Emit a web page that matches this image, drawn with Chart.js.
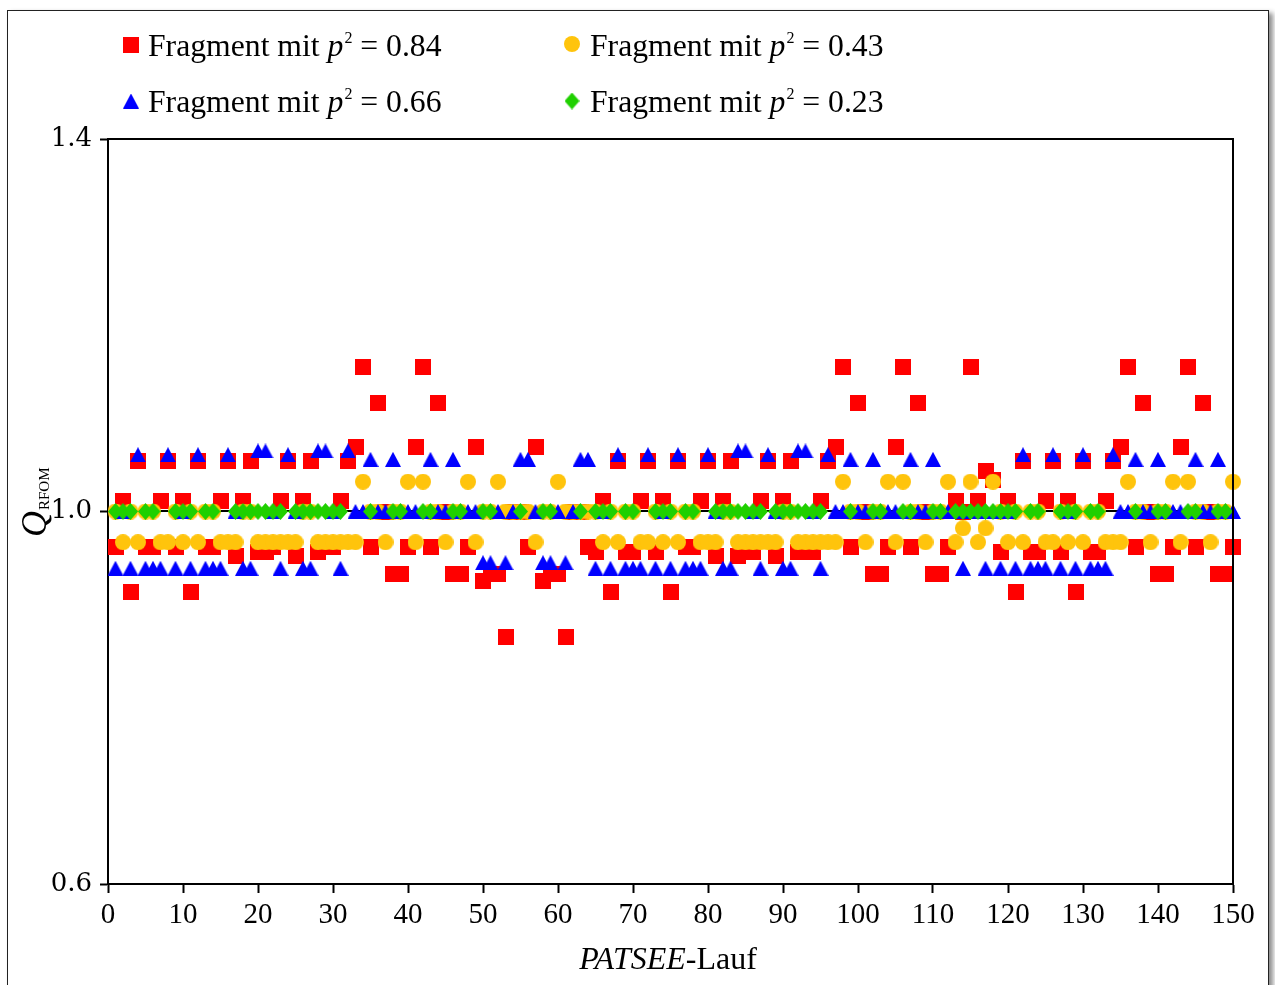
<!DOCTYPE html>
<html>
<head>
<meta charset="utf-8">
<script src="https://cdn.jsdelivr.net/npm/chart.js@4.4.1/dist/chart.umd.min.js"></script>
<style>
  html, body { margin: 0; padding: 0; background: #fff; overflow: hidden; }
  #frame { position: absolute; left: 7px; top: 10px; width: 1260px; height: 1000px;
           border: 1px solid #222; box-shadow: 4px 3px 5px rgba(0,0,0,0.45); }
  #wrap { position: absolute; left: 0; top: 0; width: 1275px; height: 985px; }
</style>
</head>
<body>
<div id="frame"></div>
<div id="wrap"><canvas id="chart" width="1275" height="985"></canvas></div>
<script>
// PATSEE runs (x values)
const runs = [
  1,2,3,4,5,6,7,8,9,10,11,12,13,14,15,16,17,18,19,20,21,22,23,24,25,
  26,27,28,29,30,31,32,33,34,35,36,37,38,39,40,41,42,43,44,45,46,47,48,49,50,
  51,52,53,54,55,56,57,58,59,60,61,62,63,64,65,66,67,68,69,70,71,72,73,74,75,
  76,77,78,79,80,81,82,83,84,85,86,87,88,89,90,91,92,93,94,95,96,97,98,99,100,
  101,102,103,104,105,106,107,108,109,110,111,112,113,114,115,116,117,118,119,120,121,122,123,124,125,
  126,127,128,129,130,131,132,133,134,135,136,137,138,139,140,141,142,143,144,145,146,147,148,149,150
];
const xTickValues = [0,10,20,30,40,50,60,70,80,90,100,110,120,130,140,150];
const yTickValues = [0.6, 1.0, 1.4];
const yTickLabels = ['0.6', '1.0', '1.4'];
const referenceLine = 1.0;

// legend texts, in the order red, yellow, blue, green
const seriesNames = ['Fragment mit p² = 0.84', 'Fragment mit p² = 0.43', 'Fragment mit p² = 0.66', 'Fragment mit p² = 0.23'];
const pSquared = ['0.84', '0.43', '0.66', '0.23'];

// Q_RFOM per run
const q084 = [
  0.962,1.011,0.914,1.054,0.962,0.962,1.011,1.054,0.962,1.011,0.914,1.054,0.962,0.962,1.011,1.054,0.952,1.011,1.054,0.957,0.957,0.962,1.011,1.054,0.952,
  1.011,1.054,0.957,0.962,0.962,1.011,1.054,1.069,1.155,0.962,1.116,1.000,0.933,0.933,0.962,1.069,1.155,0.962,1.116,1.000,0.933,0.933,0.962,1.069,0.925,
  0.933,0.933,0.865,1.000,1.000,0.962,1.069,0.925,0.933,0.933,0.865,1.000,1.000,0.962,0.957,1.011,0.914,1.054,0.957,0.957,1.011,1.054,0.957,1.011,0.914,
  1.054,0.962,0.962,1.011,1.054,0.952,1.011,1.054,0.952,0.957,0.957,1.011,1.054,0.952,1.011,1.054,0.957,0.957,0.957,1.011,1.054,1.069,1.155,0.962,1.116,
  1.000,0.933,0.933,0.962,1.069,1.155,0.962,1.116,1.000,0.933,0.933,0.962,1.011,1.000,1.155,1.011,1.044,1.034,0.957,1.011,0.914,1.054,0.957,0.957,1.011,
  1.054,0.957,1.011,0.914,1.054,0.957,0.957,1.011,1.054,1.069,1.155,0.962,1.116,1.000,0.933,0.933,0.962,1.069,1.155,0.962,1.116,1.000,0.933,0.933,0.962
];
const q043 = [
  1,0.967,1,0.967,1,1,0.967,0.967,1,0.967,1,0.967,1,1,0.967,0.967,0.967,1,1,0.967,0.967,0.967,0.967,0.967,0.967,
  1,1,0.967,0.967,0.967,0.967,0.967,0.967,1.032,1,1,0.967,1,1,1.032,0.967,1.032,1,1,0.967,1,1,1.032,0.967,1,
  1,1.032,1,1,1,1,0.967,1,1,1.032,1,1,1,1,1,0.967,1,0.967,1,1,0.967,0.967,1,0.967,1,
  0.967,1,1,0.967,0.967,0.967,1,1,0.967,0.967,0.967,0.967,0.967,0.967,1,1,0.967,0.967,0.967,0.967,0.967,0.967,1.032,1,1,
  0.967,1,1,1.032,0.967,1.032,1,1,0.967,1,1,1.032,0.967,0.982,1.032,0.967,0.982,1.032,1,0.967,1,0.967,1,1,0.967,
  0.967,1,0.967,1,0.967,1,1,0.967,0.967,0.967,1.032,1,1,0.967,1,1,1.032,0.967,1.032,1,1,0.967,1,1,1.032
];
const q066 = [
  0.939,1,0.939,1.061,0.939,0.939,0.939,1.061,0.939,1,0.939,1.061,0.939,0.939,0.939,1.061,1,0.939,0.939,1.065,1.065,1,0.939,1.061,1,
  0.939,0.939,1.065,1.065,1,0.939,1.065,1,1,1.056,1,1,1.056,1,1,1,1,1.056,1,1,1.056,1,1,1,0.945,
  0.945,1,0.945,1,1.056,1.056,1,0.945,0.945,1,0.945,1,1.056,1.056,0.939,1,0.939,1.061,0.939,0.939,0.939,1.061,0.939,1,0.939,
  1.061,0.939,0.939,0.939,1.061,1,0.939,0.939,1.065,1.065,1,0.939,1.061,1,0.939,0.939,1.065,1.065,1,0.939,1.061,1,1,1.056,1,
  1,1.056,1,1,1,1,1.056,1,1,1.056,1,1,1,0.939,1,1,0.939,1,0.939,1,0.939,1.061,0.939,0.939,0.939,
  1.061,0.939,1,0.939,1.061,0.939,0.939,0.939,1.061,1,1,1.056,1,1,1.056,1,1,1,1,1.056,1,1,1.056,1,1
];
const q023 = [
  1,1,1,null,1,1,null,null,1,1,1,null,1,1,null,null,1,1,1,1,1,1,1,null,1,
  1,1,1,1,1,1,null,null,null,1,null,null,1,1,null,null,1,1,null,null,1,1,null,null,1,
  1,null,null,null,1,null,null,1,1,null,null,null,1,null,1,1,1,null,1,1,null,null,1,1,1,
  null,1,1,null,null,1,1,1,1,1,1,1,null,1,1,1,1,1,1,1,null,null,null,1,null,
  null,1,1,null,null,1,1,null,null,1,1,null,1,1,1,1,1,1,1,1,1,null,1,1,null,
  null,1,1,1,null,1,1,null,null,null,null,1,null,null,1,1,null,null,1,1,null,null,1,1,null
];

function makeMarker(shape, color, w, h) {
  const c = document.createElement('canvas');
  c.width = w; c.height = h;
  const g = c.getContext('2d');
  g.fillStyle = color;
  g.beginPath();
  if (shape === 'square') g.rect(0, 0, w, h);
  if (shape === 'circle') g.arc(w / 2, h / 2, w / 2, 0, Math.PI * 2);
  if (shape === 'triangle') { g.moveTo(w / 2, 0); g.lineTo(w, h); g.lineTo(0, h); g.closePath(); }
  if (shape === 'diamond') { g.moveTo(w / 2, 0); g.lineTo(w, h / 2); g.lineTo(w / 2, h); g.lineTo(0, h / 2); g.closePath(); }
  g.fill();
  return c;
}

const markers = [
  makeMarker('square', '#ff0000', 16, 16),
  makeMarker('circle', '#ffc40c', 16, 16),
  makeMarker('triangle', '#0000ff', 16, 15),
  makeMarker('diamond', '#1fd000', 15, 17)
];

function toPoints(vals) {
  const pts = [];
  vals.forEach((v, i) => { if (v !== null) pts.push({x: runs[i], y: v}); });
  return pts;
}

const serif = '"Liberation Serif", "Times New Roman", serif';

// everything the library has no option for: 1.0 line, plot frame, legend, axis titles
const decorations = {
  id: 'decorations',
  beforeDatasetsDraw(chart) {
    const {ctx, chartArea: a, scales: {y}} = chart;
    ctx.save();
    ctx.strokeStyle = '#000';
    ctx.lineWidth = 2;
    const yr = Math.round(y.getPixelForValue(referenceLine));
    ctx.beginPath(); ctx.moveTo(a.left, yr); ctx.lineTo(a.right, yr); ctx.stroke();
    ctx.beginPath(); ctx.moveTo(a.left, a.top); ctx.lineTo(a.right, a.top); ctx.stroke();
    ctx.restore();
  },
  afterDatasetsDraw(chart) {
    const {ctx, chartArea: a} = chart;
    ctx.save();
    ctx.strokeStyle = '#000';
    ctx.lineWidth = 2;
    ctx.beginPath(); ctx.moveTo(a.right, a.top - 1); ctx.lineTo(a.right, a.bottom); ctx.stroke();
    ctx.restore();
  },
  afterDraw(chart) {
    const ctx = chart.ctx;
    ctx.save();
    ctx.fillStyle = '#000';
    ctx.textBaseline = 'alphabetic';
    ctx.textAlign = 'left';

    // legend: two columns, filled row by row
    const slots = [
      {mx: 131, my: 45, tx: 148, ty: 56},
      {mx: 572, my: 44, tx: 590, ty: 56},
      {mx: 131, my: 101, tx: 148, ty: 112},
      {mx: 572, my: 101, tx: 590, ty: 112}
    ];
    slots.forEach((s, i) => {
      const img = markers[i];
      ctx.drawImage(img, s.mx - img.width / 2, s.my - img.height / 2);
      let x = s.tx;
      ctx.font = '31.7px ' + serif;
      ctx.fillText('Fragment mit ', x, s.ty);
      x += ctx.measureText('Fragment mit ').width;
      ctx.font = 'italic 31.7px ' + serif;
      ctx.fillText('p', x, s.ty);
      x += ctx.measureText('p').width + 1;
      ctx.font = '16px ' + serif;
      ctx.fillText('2', x, s.ty - 13);
      x += ctx.measureText('2').width;
      ctx.font = '31.7px ' + serif;
      ctx.fillText(' = ' + pSquared[i], x, s.ty);
    });

    // x axis title
    ctx.font = 'italic 32px ' + serif;
    const w1 = ctx.measureText('PATSEE').width;
    ctx.font = '32px ' + serif;
    const w2 = ctx.measureText('-Lauf').width;
    let x0 = 668 - (w1 + w2) / 2;
    ctx.font = 'italic 32px ' + serif;
    ctx.fillText('PATSEE', x0, 969);
    ctx.font = '32px ' + serif;
    ctx.fillText('-Lauf', x0 + w1, 969);

    // y axis title, rotated
    ctx.translate(46, 537);
    ctx.rotate(-Math.PI / 2);
    ctx.font = 'italic 36px ' + serif;
    ctx.fillText('Q', 0, 0);
    const wq = ctx.measureText('Q').width;
    ctx.font = '15px ' + serif;
    ctx.fillText('RFOM', wq + 1, 3);
    ctx.restore();
  }
};

const chartData = {
  datasets: [
    {label: seriesNames[0], data: toPoints(q084), pointStyle: markers[0], order: 3},
    {label: seriesNames[1], data: toPoints(q043), pointStyle: markers[1], order: 2},
    {label: seriesNames[2], data: toPoints(q066), pointStyle: markers[2], order: 1},
    {label: seriesNames[3], data: toPoints(q023), pointStyle: markers[3], order: 0}
  ].map(d => Object.assign(d, {showLine: false, pointRadius: 8, clip: false}))
};

const config = {
  type: 'scatter',
  data: chartData,
  plugins: [decorations],
  options: {
    responsive: false,
    animation: false,
    events: [],
    layout: {padding: {left: 0, right: 42, top: 139, bottom: 0}},
    plugins: {legend: {display: false}, tooltip: {enabled: false}},
    scales: {
      x: {
        type: 'linear',
        min: 0, max: 150,
        afterBuildTicks: s => { s.ticks = xTickValues.map(v => ({value: v})); },
        afterFit: s => { s.height = 101; },
        grid: {drawOnChartArea: false, drawTicks: true, tickLength: 9, tickColor: '#000', tickWidth: 2},
        border: {display: true, color: '#000', width: 2},
        ticks: {color: '#000', padding: 5, maxRotation: 0, font: {family: serif, size: 29}}
      },
      y: {
        type: 'linear',
        min: 0.6, max: 1.4,
        afterBuildTicks: s => { s.ticks = yTickValues.map(v => ({value: v})); },
        afterFit: s => { s.width = 108; },
        grid: {drawOnChartArea: false, drawTicks: true, tickLength: 8, tickColor: '#000', tickWidth: 2},
        border: {display: true, color: '#000', width: 2},
        ticks: {
          color: '#000', padding: 8,
          font: {family: '"DejaVu Serif", serif', size: 26},
          callback: (v, i) => yTickLabels[i]
        }
      }
    }
  }
};

new Chart(document.getElementById('chart'), config);
</script>
</body>
</html>
